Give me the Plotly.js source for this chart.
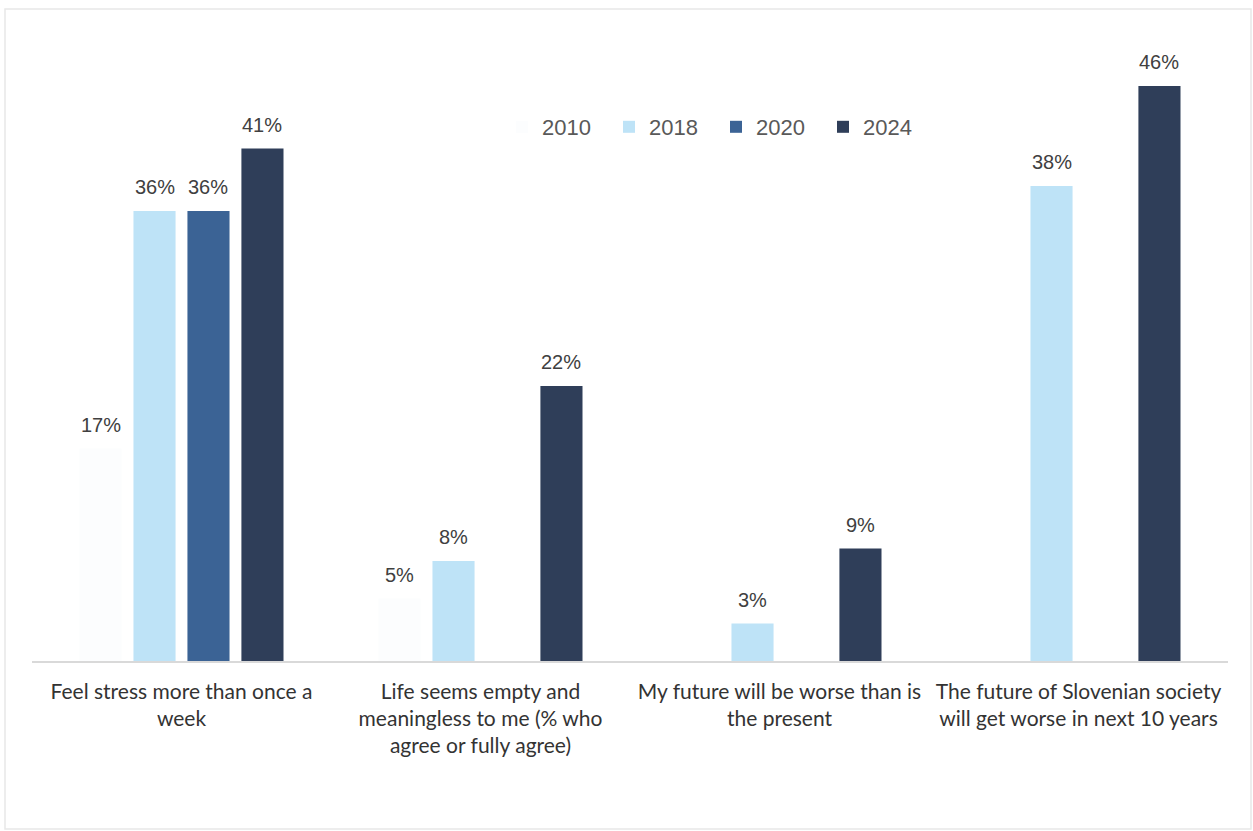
<!DOCTYPE html>
<html>
<head>
<meta charset="utf-8">
<script src="https://cdn.plot.ly/plotly-3.0.1.min.js"></script>
<style>html,body{margin:0;padding:0;background:#fff;}#chart{width:1253px;height:831px;}</style>
</head>
<body>
<div id="chart"></div>
<script>
const categories = [
  "Feel stress more than once a<br>week",
  "Life seems empty and<br>meaningless to me (% who<br>agree or fully agree)",
  "My future will be worse than is<br>the present",
  "The future of Slovenian society<br>will get worse in next 10 years"
];
const seriesNames = ["2010", "2018", "2020", "2024"];
const v2010 = [17, 5, null, null];
const v2018 = [36, 8, 3, 38];
const v2020 = [36, null, null, null];
const v2024 = [41, 22, 9, 46];
const seriesValues = [v2010, v2018, v2020, v2024];
const colors = ["#fcfdfe", "#bee3f7", "#3b6395", "#2f3e59"];

const W = 1253, H = 831;
const margin = {l: 32, r: 25, t: 36, b: 170};
const bargap = 0.278, bargroupgap = 0.22;
const plotW = W - margin.l - margin.r;
const plotH = H - margin.t - margin.b;
const catW = plotW / categories.length;
const step = catW * (1 - bargap) / seriesNames.length;

const traces = seriesNames.map((name, i) => ({
  type: "bar",
  name: name,
  x: categories,
  y: seriesValues[i],
  marker: {color: colors[i]},
  hoverinfo: "none"
}));

const annotations = [];
seriesValues.forEach((vals, i) => {
  vals.forEach((v, j) => {
    if (v === null) return;
    annotations.push({
      x: categories[j], y: v, xref: "x", yref: "y",
      text: v + "%", showarrow: false,
      xanchor: "center", yanchor: "bottom",
      xshift: (i - (seriesNames.length - 1) / 2) * step,
      yshift: 11,
      font: {family: "Liberation Sans, Arial, sans-serif", size: 20, color: "#404040"}
    });
  });
});

const layout = {
  width: W, height: H,
  margin: margin,
  paper_bgcolor: "#ffffff", plot_bgcolor: "#ffffff",
  barmode: "group",
  bargap: bargap, bargroupgap: bargroupgap,
  showlegend: true,
  legend: {
    orientation: "h", x: (502 - margin.l) / plotW, xanchor: "left", y: (661 - 127) / plotH, yanchor: "middle",
    entrywidth: 62, entrywidthmode: "pixels",
    font: {family: "Liberation Sans, Arial, sans-serif", size: 22, color: "#595959"},
    bgcolor: "rgba(0,0,0,0)", itemclick: false, traceorder: "normal"
  },
  xaxis: {
    type: "category", showline: true, linecolor: "#d9d9d9", linewidth: 1.5,
    ticks: "", showgrid: false, zeroline: false, ticklabelstandoff: 11,
    tickfont: {family: "Lato, Calibri, sans-serif", size: 21, color: "#333333"}
  },
  yaxis: {
    range: [0, 50], visible: false, showgrid: false, zeroline: false
  },
  annotations: annotations,
  shapes: [{
    type: "rect", xref: "paper", yref: "paper",
    x0: (5 - margin.l) / plotW, x1: (1251 - margin.l) / plotW,
    y0: (H - margin.b - 829) / plotH, y1: (H - margin.b - 9) / plotH,
    line: {color: "#e8e8e8", width: 1.5}, fillcolor: "rgba(0,0,0,0)", layer: "below"
  }]
};

Plotly.newPlot("chart", traces, layout, {displayModeBar: false, staticPlot: true});
</script>
</body>
</html>
